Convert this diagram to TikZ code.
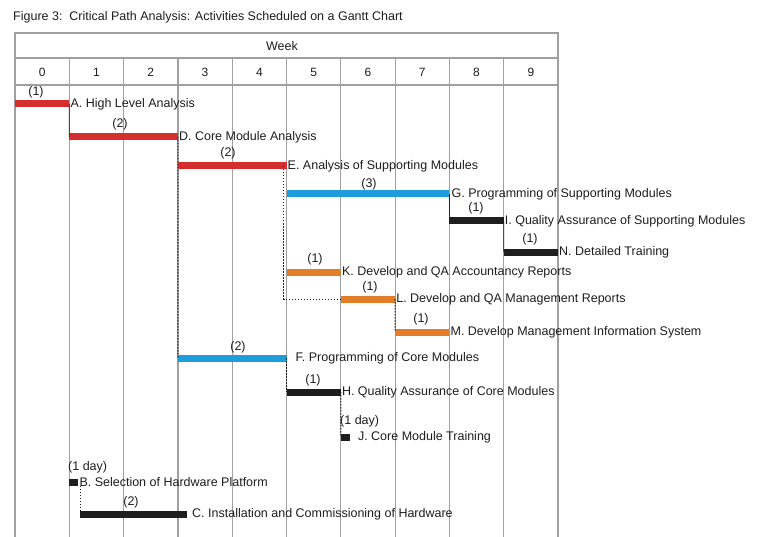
\documentclass[tikz,border=0pt]{standalone}
\usepackage{fontspec}
\setmainfont{Liberation Sans}
\definecolor{redbar}{RGB}{214,46,46}
\definecolor{bluebar}{RGB}{30,156,220}
\definecolor{orangebar}{RGB}{226,126,40}
\definecolor{blackbar}{RGB}{30,30,30}
\definecolor{gridc}{RGB}{160,160,160}
\definecolor{txt}{RGB}{30,30,30}
\begin{document}
\begin{tikzpicture}[x=1pt,y=-1pt,
  bar/.style={draw=none,fill=#1,minimum height=7pt,inner sep=0pt,anchor=west,outer sep=0pt},
  lbl/.style={anchor=west,inner sep=1pt,text=txt,font=\fontsize{12.5}{14}\selectfont},
  dur/.style={inner sep=0pt,text=txt,font=\fontsize{12.5}{14}\selectfont},
  hdr/.style={inner sep=0pt,text=txt,font=\fontsize{12}{14}\selectfont},
  gridline/.style={draw=gridc,line width=1.2pt},
  solidcon/.style={draw=blackbar,line width=0.8pt},
  dotcon/.style={draw=blackbar,line width=1pt,dash pattern=on 1.5pt off 1.5pt}]
\useasboundingbox (0,0) rectangle (762,537);
\fill[white] (0,0) rectangle (762,537);
% title
\node[anchor=west,inner sep=0pt,text=txt,font=\fontsize{12.5}{14}\selectfont] (title) at (13,17) {Figure 3:\ \ Critical Path Analysis: Activities Scheduled on a Gantt Chart};
% table frame
\coordinate (tl) at (15,33);
\coordinate (tr) at (558,33);
\draw[gridline] (15,537) -- (tl) -- (tr) -- (558,537);
\draw[gridline] (15,58) -- (558,58);
\draw[gridline] (15,85) -- (558,85);
\node[dur] (week) at (282,46) {Week};
\foreach \i in {1,...,9} {
  \draw[gridline] ({15+54.3*\i},58) -- ({15+54.3*\i},537);
}
\foreach \i in {0,...,9} {
  \node[hdr] (n\i) at ({15+54.3*\i+27.15},72) {\i};
}
% bars
\node[bar=redbar,minimum width=54.3pt] (A) at (15,104) {};
\node[bar=redbar,minimum width=108.6pt] (D) at (69.3,137) {};
\node[bar=redbar,minimum width=108.6pt] (E) at (177.9,166) {};
\node[bar=bluebar,minimum width=162.9pt] (G) at (286.5,194) {};
\node[bar=blackbar,minimum width=54.3pt] (I) at (449.4,221) {};
\node[bar=blackbar,minimum width=54.3pt] (N) at (503.7,252) {};
\node[bar=orangebar,minimum width=54.3pt] (K) at (286.5,272) {};
\node[bar=orangebar,minimum width=54.3pt] (L) at (340.8,299) {};
\node[bar=orangebar,minimum width=54.3pt] (M) at (395.1,332) {};
\node[bar=bluebar,minimum width=108.6pt] (F) at (177.9,358) {};
\node[bar=blackbar,minimum width=54.3pt] (H) at (286.5,392) {};
\node[bar=blackbar,minimum width=9pt] (J) at (340.8,437) {};
\node[bar=blackbar,minimum width=9pt] (B) at (69.3,482) {};
\node[bar=blackbar,minimum width=107pt] (C) at (80,514) {};
% connectors
\draw[solidcon] (A.east) -- (D.west);
\draw[dotcon] (D.east) -- (F.west);
\draw[dotcon] ([xshift=-3pt]E.east) |- (L.west);
\draw[solidcon] (G.east) -- (I.west);
\draw[solidcon] (I.east) -- (N.west);
\draw[dotcon] (L.east) -- (M.west);
\draw[dotcon] (F.east) -- (H.west);
\draw[dotcon] (H.east) -- (J.west);
\draw[dotcon] (C.west |- B.south) -- (C.west);
% labels
\node[lbl] (tA) at (A.east) {A. High Level Analysis};
\node[lbl] (tD) at (D.east) {D. Core Module Analysis};
\node[lbl] (tE) at (E.east) {E. Analysis of Supporting Modules};
\node[lbl] (tG) at ([xshift=1pt]G.east) {G. Programming of Supporting Modules};
\node[lbl] (tI) at (I.east) {I. Quality Assurance of Supporting Modules};
\node[lbl] (tN) at (N.east) {N. Detailed Training};
\node[lbl] (tK) at (K.east) {K. Develop and QA Accountancy Reports};
\node[lbl] (tL) at (L.east) {L. Develop and QA Management Reports};
\node[lbl] (tM) at (M.east) {M. Develop Management Information System};
\node[lbl] (tF) at ([xshift=8pt]F.east) {F. Programming of Core Modules};
\node[lbl] (tH) at (H.east) {H. Quality Assurance of Core Modules};
\node[lbl] (tJ) at ([xshift=7pt]J.east) {J. Core Module Training};
\node[lbl] (tB) at (B.east) {B. Selection of Hardware Platform};
\node[lbl] (tC) at ([xshift=4pt]C.east) {C. Installation and Commissioning of Hardware};
% durations
\node[dur] (dA) at (36,92) {(1)};
\node[dur] (dD) at (120,124) {(2)};
\node[dur] (dE) at (228,153) {(2)};
\node[dur] (dG) at (369,184) {(3)};
\node[dur] (dI) at (476,208) {(1)};
\node[dur] (dN) at (530,239) {(1)};
\node[dur] (dK) at (315,259) {(1)};
\node[dur] (dL) at (370,287) {(1)};
\node[dur] (dM) at (421,319) {(1)};
\node[dur] (dF) at (238,347) {(2)};
\node[dur] (dH) at (313,380) {(1)};
\node[dur,anchor=west] (dJ) at (340,421) {(1 day)};
\node[dur,anchor=west] (dB) at (68,467) {(1 day)};
\node[dur] (dC) at (131,502) {(2)};
\end{tikzpicture}
\end{document}
